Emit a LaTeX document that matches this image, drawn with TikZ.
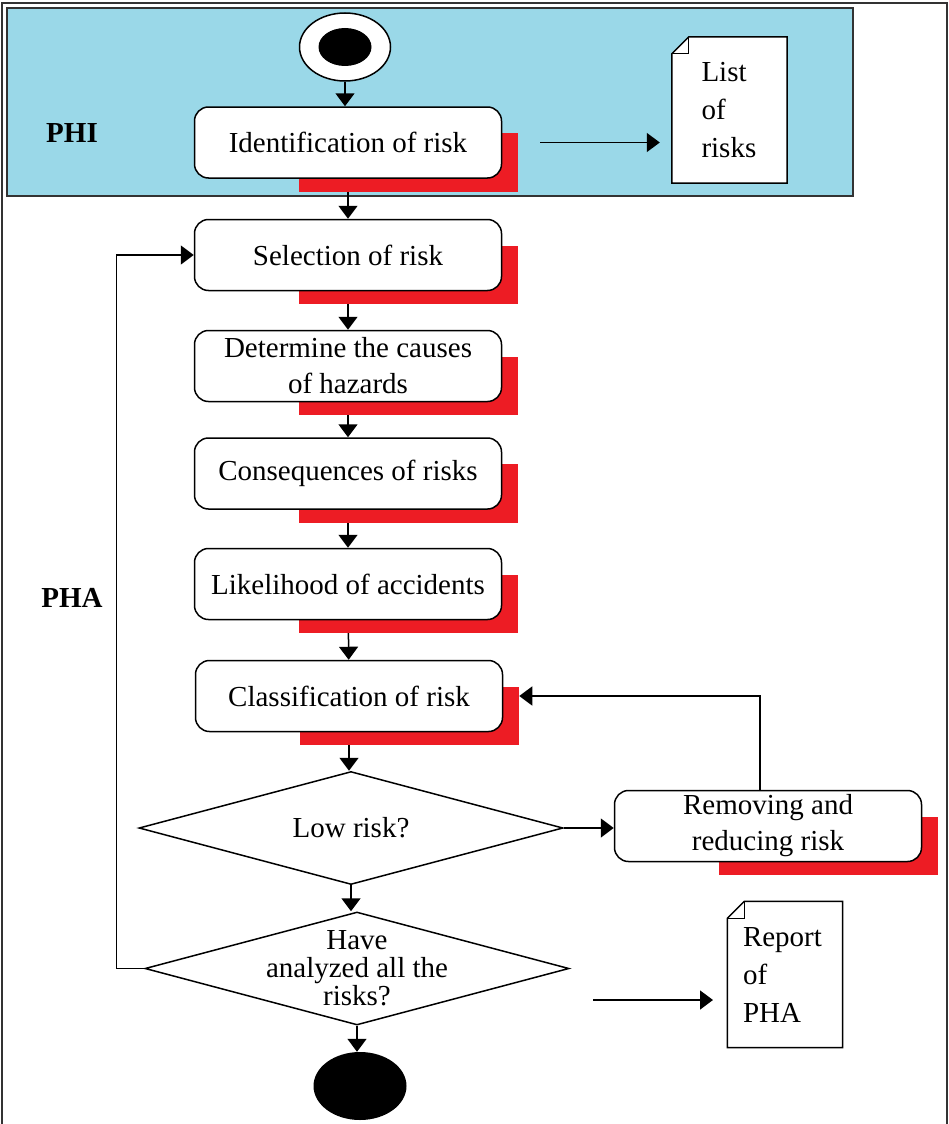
\documentclass[tikz,border=0pt]{standalone}
\usepackage{fontspec}
\setmainfont{Liberation Serif}
\usetikzlibrary{arrows.meta,calc,shapes.geometric,backgrounds}
\definecolor{phiblue}{RGB}{154,216,232}
\definecolor{shadowred}{RGB}{237,28,36}
\begin{document}
\begin{tikzpicture}[x=1pt,y=-1pt]
\tikzset{
    proc/.style={draw, line width=1.5pt, fill=white, rounded corners=14pt,
        minimum width=307pt, minimum height=71pt, inner sep=2pt, align=center,
        font=\fontsize{29}{36}\selectfont},
    decision/.style={diamond, draw, line width=1.5pt, fill=white,
        minimum width=424pt, minimum height=113pt, inner sep=0pt},
    dectext/.style={align=center, font=\fontsize{29}{28}\selectfont},
    doc/.style={minimum width=115pt, minimum height=146pt, text width=56pt,
        align=left, inner sep=0pt, font=\fontsize{29}{38}\selectfont},
    arr/.style={line width=1.5pt, -{Triangle[length=13pt,width=19pt]}},
    phase/.style={font=\bfseries\fontsize{29}{34}\selectfont}}
\def\docfold{17pt}
\newcommand\redshadow[1]{\fill[shadowred] ($(#1.north west)+(105,27)$) rectangle ($(#1.south east)+(16,13)$);}
\newcommand\docframe[1]{
    \draw[line width=1.5pt, fill=white] ([yshift=-\docfold]#1.north west) -- ([xshift=\docfold]#1.north west)
        -- (#1.north east) -- (#1.south east) -- (#1.south west) -- cycle;
    \draw[line width=1.2pt] ([yshift=-\docfold]#1.north west) -- ([shift={(\docfold,-\docfold)}]#1.north west)
        -- ([xshift=\docfold]#1.north west);}

\useasboundingbox (0,0) rectangle (949,1124);

% start and end
\node[ellipse, draw, line width=1.5pt, fill=white, inner sep=0pt,
    minimum width=91pt, minimum height=68pt] (start) at (345,47) {};
\node[ellipse, fill=black, inner sep=0pt, minimum width=53pt, minimum height=38pt] (startdot) at (start.center) {};
\node[ellipse, fill=black, inner sep=0pt, minimum width=93pt, minimum height=68pt] (stop) at (360,1086) {};

% steps
\node[proc] (ident) at (348,142.5) {Identification of risk};
\node[proc] (sel) at (348,255) {Selection of risk};
\node[proc] (det) at (348,366) {Determine the causes\\of hazards};
\node[proc] (cons) at (348,473.5) {Consequences of risks};
\node[proc] (like) at (348,584) {Likelihood of accidents};
\node[proc] (cls) at (349,696) {Classification of risk};
\node[proc] (rem) at (768,826) {Removing and\\reducing risk};

\node[decision, label={[dectext]center:Low risk?}] (low) at (351,828) {};
\node[decision, label={[dectext]center:Have\\analyzed all the\\risks?}] (have) at (357,968.5) {};

% documents
\node[doc] (list) at (729.5,110) {List\\of\\risks};
\node[doc, text width=84pt] (report) at (785,974.5) {Report\\of\\PHA};

\node[phase] (phi) at (72,133) {PHI};
\node[phase] (pha) at (72,598) {PHA};

\coordinate (l1) at ([xshift=38pt]ident.east);
\coordinate (l2) at ([xshift=-12pt]list.west |- ident.east);
\coordinate (r1) at (593,1000);
\coordinate (r2) at (713,1000);

\begin{scope}[on background layer]
\draw[line width=1.5pt, black!80] (2,1124) -- (2,3) -- (947,3) -- (947,1124);
\draw[line width=2pt, draw=black!80, fill=phiblue] (7,8) rectangle (853,196);

\draw[arr] (start.south) -- (start.south |- ident.north);
\draw[arr] (ident) -- (sel);
\draw[arr] (sel) -- (det);
\draw[arr] (det) -- (cons);
\draw[arr] (cons) -- (like);
\draw[arr] (like) -- (cls);
\draw[arr] (cls.south) -- (cls.south |- low.north);
\draw[arr] (low.east) -- (low.east -| rem.west);
\draw[arr] ([xshift=-8pt]rem.north) |- ([xshift=16pt]cls.east);
\draw[arr] (low.south) -- (low.south |- have.north);
\draw[arr] (have.west) -- ++(-28,0) |- (sel.west);
\draw[arr] (have.south) -- (have.south |- stop.north);
\draw[arr] (l1) -- (l2);
\draw[arr] (r1) -- (r2);

\redshadow{ident}
\redshadow{sel}
\redshadow{det}
\redshadow{cons}
\redshadow{like}
\redshadow{cls}
\redshadow{rem}

\docframe{list}
\docframe{report}
\end{scope}

\end{tikzpicture}
\end{document}
